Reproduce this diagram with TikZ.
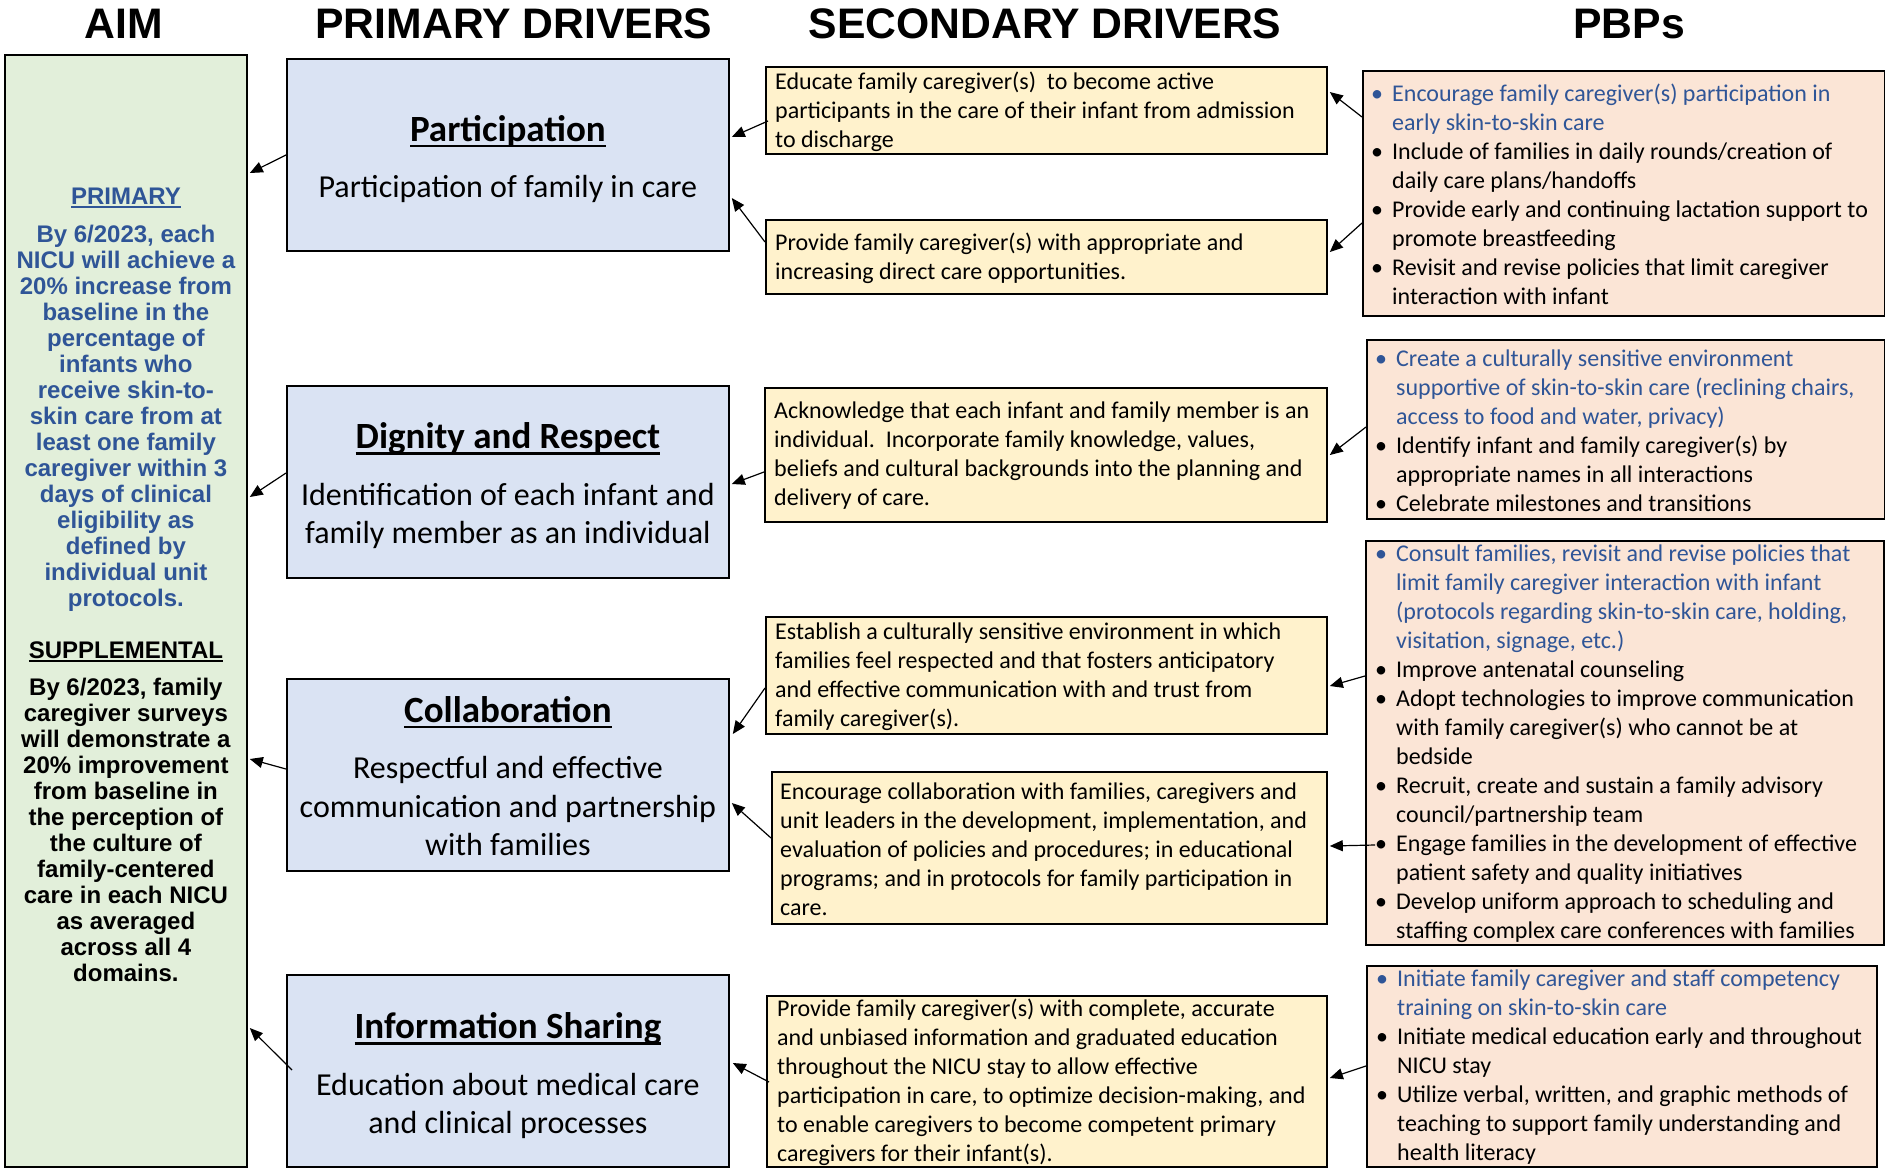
\documentclass[tikz,border=0pt]{standalone}
\usepackage{fontspec}
\setmainfont{Carlito}
\newfontfamily\arialf{Liberation Sans}
\usetikzlibrary{arrows.meta}
\definecolor{aimfill}{HTML}{E2EFDA}
\definecolor{pdfill}{HTML}{DAE3F3}
\definecolor{sdfill}{HTML}{FFF2CC}
\definecolor{pbfill}{HTML}{FBE5D6}
\definecolor{txtblue}{HTML}{2F5597}
\newcommand{\myul}[3]{\leavevmode\setbox0\hbox{#3}\rlap{\rule[-#1]{\wd0}{#2}}\box0}
\newcommand{\bind}{\makebox[21pt][l]{•}}
\newcommand{\cind}{\hspace*{21pt}}
\newcommand{\pdttl}[1]{{\fontsize{37}{42}\selectfont\bfseries\myul{6pt}{2.4pt}{#1}}}
\tikzset{
  box/.style={draw=black, line width=1.8pt, anchor=north west, inner sep=0pt},
  aimbox/.style={box, fill=aimfill},
  pdbox/.style={box, fill=pdfill, minimum width=442, minimum height=192},
  pdtext/.style={align=center, inner sep=0pt, font=\fontsize{32}{38.5}\selectfont},
  sdbox/.style={box, fill=sdfill},
  pbbox/.style={box, fill=pbfill},
  sdtext/.style={anchor=west, align=left, inner sep=0pt, font=\fontsize{24}{29}\selectfont},
  aimtext/.style={align=center, inner sep=0pt, font=\arialf\bfseries\fontsize{24}{26}\selectfont},
  ttl/.style={anchor=base, inner sep=0pt, font=\arialf\bfseries\fontsize{42.7}{50}\selectfont},
  arr/.style={line width=1.2pt, -{Triangle[length=13pt,width=11pt]}},
}
\begin{document}
\begin{tikzpicture}[x=1pt,y=-1pt]
\useasboundingbox (0,0) rectangle (1885,1168);
% titles
\node[ttl] (tAim) at (124,38) {AIM};
\node[ttl] (tPri) at (514,38) {PRIMARY DRIVERS};
\node[ttl] (tSec) at (1045,38) {SECONDARY DRIVERS};
\node[ttl] (tPbp) at (1629,38) {PBPs};
% aim
\node[aimbox, minimum width=242, minimum height=1112] (aim) at (4,54) {};
\node[aimtext, text=txtblue] (aim1) at ([shift={(0,346)}]aim.north) {\myul{3pt}{2pt}{PRIMARY}\\[12pt]
By 6/2023, each\\ NICU will achieve a\\ 20\% increase from\\ baseline in the\\ percentage of\\ infants who\\ receive skin-to-\\ skin care from at\\ least one family\\ caregiver within 3\\ days of clinical\\ eligibility as\\ defined by\\ individual unit\\ protocols.};
\node[aimtext, text=black] (aim2) at ([shift={(0,758)}]aim.north) {\myul{3pt}{2pt}{SUPPLEMENTAL}\\[11pt]
By 6/2023, family\\ caregiver surveys\\ will demonstrate a\\ 20\% improvement\\ from baseline in\\ the perception of\\ the culture of\\ family-centered\\ care in each NICU\\ as averaged\\ across all 4\\ domains.};
% primary drivers
\node[pdbox] (part) at (286,58) {};
\node[pdtext] (partt) at ([shift={(0,4)}]part.center) {\pdttl{Participation}\\[18pt] Participation of family in care};
\node[pdbox] (dig) at (286,385) {};
\node[pdtext] (digt) at ([shift={(0,4)}]dig.center) {\pdttl{Dignity and Respect}\\[18pt] Identification of each infant and\\ family member as an individual};
\node[pdbox] (col) at (286,678) {};
\node[pdtext] (colt) at ([shift={(0,1)}]col.center) {\pdttl{Collaboration}\\[18pt] Respectful and effective\\ communication and partnership\\ with families};
\node[pdbox] (info) at (286,974) {};
\node[pdtext] (infot) at ([shift={(0,5)}]info.center) {\pdttl{Information Sharing}\\[18pt] Education about medical care\\ and clinical processes};
% secondary drivers
\node[sdbox, minimum width=561, minimum height=87] (s1) at (765,66) {};
\node[sdtext] (s1t) at ([shift={(10,1)}]s1.west) {Educate family caregiver(s)\ \ to become active\\ participants in the care of their infant from admission\\ to discharge};
\node[sdbox, minimum width=561, minimum height=74] (s2) at (765,219) {};
\node[sdtext] (s2t) at ([shift={(10,1)}]s2.west) {Provide family caregiver(s) with appropriate and\\ increasing direct care opportunities.};
\node[sdbox, minimum width=562, minimum height=134] (s3) at (764,387) {};
\node[sdtext] (s3t) at ([shift={(10,1)}]s3.west) {Acknowledge that each infant and family member is an\\ individual.\ \ Incorporate family knowledge, values,\\ beliefs and cultural backgrounds into the planning and\\ delivery of care.};
\node[sdbox, minimum width=561, minimum height=117] (s4) at (765,616) {};
\node[sdtext] (s4t) at ([shift={(10,1)}]s4.west) {Establish a culturally sensitive environment in which\\ families feel respected and that fosters anticipatory\\ and effective communication with and trust from\\ family caregiver(s).};
\node[sdbox, minimum width=555, minimum height=152] (s5) at (771,771) {};
\node[sdtext] (s5t) at ([shift={(9,1)}]s5.west) {Encourage collaboration with families, caregivers and\\ unit leaders in the development, implementation, and\\ evaluation of policies and procedures; in educational\\ programs; and in protocols for family participation in\\ care.};
\node[sdbox, minimum width=560, minimum height=171] (s6) at (766,995) {};
\node[sdtext] (s6t) at ([shift={(11,1)}]s6.west) {Provide family caregiver(s) with complete, accurate\\ and unbiased information and graduated education\\ throughout the NICU stay to allow effective\\ participation in care, to optimize decision-making, and\\ to enable caregivers to become competent primary\\ caregivers for their infant(s).};
% PBPs
\node[pbbox, minimum width=522, minimum height=245] (p1) at (1362,70) {};
\node[sdtext] (p1t) at ([shift={(9,1)}]p1.west) {\textcolor{txtblue}{\bind Encourage family caregiver(s) participation in}\\ \textcolor{txtblue}{\cind early skin-to-skin care}\\ \bind Include of families in daily rounds/creation of\\ \cind daily care plans/handoffs\\ \bind Provide early and continuing lactation support to\\ \cind promote breastfeeding\\ \bind Revisit and revise policies that limit caregiver\\ \cind interaction with infant};
\node[pbbox, minimum width=518, minimum height=179] (p2) at (1366,339) {};
\node[sdtext] (p2t) at ([shift={(9,1)}]p2.west) {\textcolor{txtblue}{\bind Create a culturally sensitive environment}\\ \textcolor{txtblue}{\cind supportive of skin-to-skin care (reclining chairs,}\\ \textcolor{txtblue}{\cind access to food and water, privacy)}\\ \bind Identify infant and family caregiver(s) by\\ \cind appropriate names in all interactions\\ \bind Celebrate milestones and transitions};
\node[pbbox, minimum width=518, minimum height=404] (p3) at (1365,540) {};
\node[sdtext] (p3t) at ([shift={(10,1)}]p3.west) {\textcolor{txtblue}{\bind Consult families, revisit and revise policies that}\\ \textcolor{txtblue}{\cind limit family caregiver interaction with infant}\\ \textcolor{txtblue}{\cind (protocols regarding skin-to-skin care, holding,}\\ \textcolor{txtblue}{\cind visitation, signage, etc.)}\\ \bind Improve antenatal counseling\\ \bind Adopt technologies to improve communication\\ \cind with family caregiver(s) who cannot be at\\ \cind bedside\\ \bind Recruit, create and sustain a family advisory\\ \cind council/partnership team\\ \bind Engage families in the development of effective\\ \cind patient safety and quality initiatives\\ \bind Develop uniform approach to scheduling and\\ \cind staffing complex care conferences with families};
\node[pbbox, minimum width=510, minimum height=201] (p4) at (1366,965) {};
\node[sdtext] (p4t) at ([shift={(10,1)}]p4.west) {\textcolor{txtblue}{\bind Initiate family caregiver and staff competency}\\ \textcolor{txtblue}{\cind training on skin-to-skin care}\\ \bind Initiate medical education early and throughout\\ \cind NICU stay\\ \bind Utilize verbal, written, and graphic methods of\\ \cind teaching to support family understanding and\\ \cind health literacy};
% arrows: primary -> aim
\draw[arr] ([shift={(0,97)}]part.north west) -- ([shift={(2,119)}]aim.north east);
\draw[arr] ([shift={(0,88)}]dig.north west) -- ([shift={(2,443)}]aim.north east);
\draw[arr] ([shift={(0,91)}]col.north west) -- ([shift={(2,705)}]aim.north east);
\draw[arr] ([shift={(6,96)}]info.north west) -- ([shift={(2,974)}]aim.north east);
% secondary -> primary
\draw[arr] ([shift={(3,55)}]s1.north west) -- ([shift={(2,79)}]part.north east);
\draw[arr] ([shift={(0,23)}]s2.north west) -- ([shift={(2,140)}]part.north east);
\draw[arr] ([shift={(0,85)}]s3.north west) -- ([shift={(2,99)}]dig.north east);
\draw[arr] ([shift={(0,72)}]s4.north west) -- ([shift={(3,56)}]col.north east);
\draw[arr] ([shift={(0,67)}]s5.north west) -- ([shift={(2,125)}]col.north east);
\draw[arr] ([shift={(3,87)}]s6.north west) -- ([shift={(3,89)}]info.north east);
% PBP -> secondary
\draw[arr] ([shift={(0,47)}]p1.north west) -- ([shift={(2,26)}]s1.north east);
\draw[arr] ([shift={(0,153)}]p1.north west) -- ([shift={(2,33)}]s2.north east);
\draw[arr] ([shift={(0,88)}]p2.north west) -- ([shift={(2,68)}]s3.north east);
\draw[arr] ([shift={(0,136)}]p3.north west) -- ([shift={(2,70)}]s4.north east);
\draw[arr] ([shift={(10,305)}]p3.north west) -- ([shift={(2,75)}]s5.north east);
\draw[arr] ([shift={(0,101)}]p4.north west) -- ([shift={(2,83)}]s6.north east);
\end{tikzpicture}
\end{document}
